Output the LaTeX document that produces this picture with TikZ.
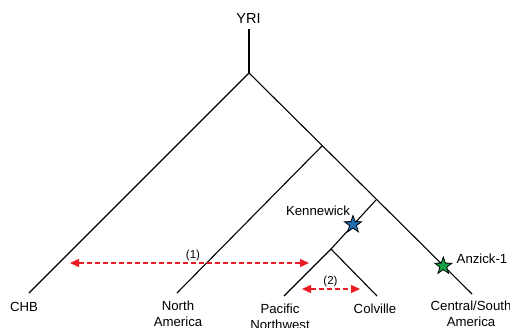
\documentclass[tikz,border=0pt]{standalone}
\usepackage{fontspec}
\setmainfont{Liberation Sans}
\usetikzlibrary{shapes.geometric,arrows.meta}
\definecolor{myred}{RGB}{237,28,36}
\definecolor{myblue}{RGB}{30,110,180}
\definecolor{mygreen}{RGB}{20,160,70}
\begin{document}
\begin{tikzpicture}[x=1pt,y=-1pt,
  branch/.style={line width=1.1pt,black},
  lbl/.style={font=\fontsize{13.2}{16}\selectfont,align=center,inner sep=0pt},
  num/.style={font=\fontsize{11.5}{13}\selectfont,inner sep=0pt},
  migr/.style={myred,line width=1.4pt,dash pattern=on 5pt off 3pt,{Triangle[length=9pt,width=8pt]}-{Triangle[length=9pt,width=8pt]}},
  starmark/.style={star,star points=5,star point ratio=2.5,minimum size=18pt,inner sep=0pt,draw=black,line width=0.8pt}]
\useasboundingbox (0,0) rectangle (510,328);
% nodes
\coordinate (top) at (249,29);
\coordinate (root) at (249,73);
\coordinate (n1) at (322,146);
\coordinate (n2) at (376,200);
\coordinate (n3) at (331,249);
\coordinate (tCHB) at (29,293);
\coordinate (tNA) at (177,293);
\coordinate (tPNW) at (284,296);
\coordinate (tCOL) at (377,296);
\coordinate (tCSA) at (472,294);
% branches
\draw[branch] (top) -- (root);
\draw[branch] (root) -- (tCHB);
\draw[branch] (root) -- (tCSA);
\draw[branch] (n1) -- (tNA);
\draw[branch] (n2) -- (n3) -- (tPNW);
\draw[branch] (n3) -- (tCOL);
% labels
\node[lbl,font=\fontsize{14.5}{16}\selectfont,anchor=base] (yri) at (248.5,24) {YRI};
\node[lbl,anchor=base] (chb) at (24,311.5) {CHB};
\node[lbl,anchor=north] (na) at (178,301) {North\\America};
\node[lbl,anchor=north] (pnw) at (280,303.5) {Pacific\\Northwest};
\node[lbl,anchor=base] (col) at (375,313) {Colville};
\node[lbl,anchor=north] (csa) at (471,301) {Central/South\\America};
\node[lbl,anchor=base] (ken) at (318,216) {Kennewick};
\node[lbl,anchor=base west] (anz) at (456.5,263) {Anzick-1};
% stars
\node[starmark,fill=myblue] (sk) at (353,224.5) {};
\node[starmark,fill=mygreen] (sa) at (443.3,266) {};
% migration arrows
\coordinate (a1l) at (70,263);
\coordinate (a1r) at (309,263);
\draw[migr] (a1l) -- (a1r);
\node[num,anchor=base] (m1) at (193,258) {(1)};
\coordinate (a2l) at (302,289);
\coordinate (a2r) at (360,289);
\draw[migr] (a2l) -- (a2r);
\node[num,anchor=base] (m2) at (330.5,284) {(2)};
\end{tikzpicture}
\end{document}
